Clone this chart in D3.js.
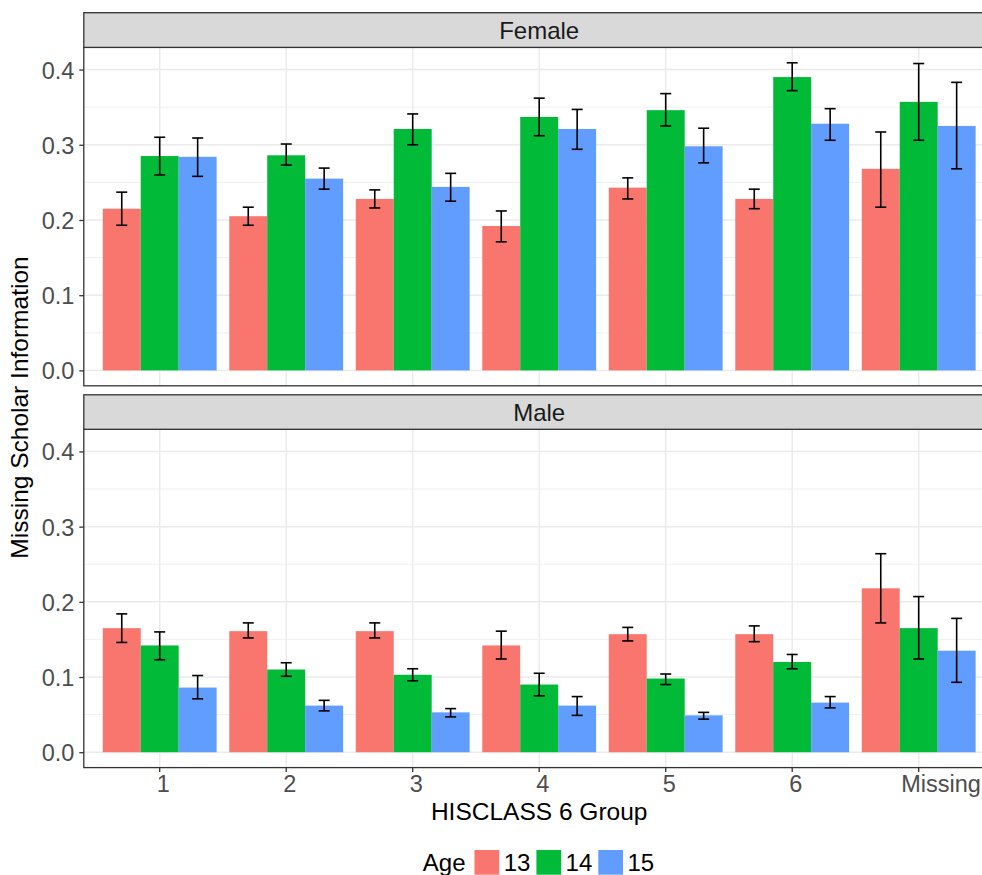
<!DOCTYPE html>
<html>
<head>
<meta charset="utf-8">
<script src="https://cdn.jsdelivr.net/npm/d3@7"></script>
<style>
  html, body { margin: 0; padding: 0; background: #fff; overflow: hidden; }
  text { font-family: "Liberation Sans", Arial, Helvetica, sans-serif; }
</style>
</head>
<body>
<svg id="chart" width="982" height="875"></svg>
<script>
// ---- Data ----
const categories = ["1", "2", "3", "4", "5", "6", "Missing"];
const ages = ["13", "14", "15"];
const ageColors = ["#F8766D", "#00BA38", "#619CFF"];
const facets = ["Female", "Male"];
const yTicks = [0.0, 0.1, 0.2, 0.3, 0.4];
const yMinorTicks = [0.05, 0.15, 0.25, 0.35];

// Female: mean, lower, upper per age (13, 14, 15) per category
const female13 = [0.215, 0.205, 0.228, 0.192, 0.243, 0.228, 0.268];
const female13Lo = [0.193, 0.193, 0.216, 0.171, 0.228, 0.215, 0.217];
const female13Hi = [0.237, 0.217, 0.240, 0.212, 0.256, 0.241, 0.317];
const female14 = [0.285, 0.286, 0.321, 0.337, 0.346, 0.390, 0.357];
const female14Lo = [0.260, 0.273, 0.300, 0.312, 0.325, 0.372, 0.306];
const female14Hi = [0.310, 0.301, 0.341, 0.362, 0.368, 0.409, 0.408];
const female15 = [0.284, 0.255, 0.244, 0.321, 0.298, 0.328, 0.325];
const female15Lo = [0.258, 0.241, 0.225, 0.294, 0.276, 0.306, 0.268];
const female15Hi = [0.309, 0.269, 0.262, 0.347, 0.322, 0.348, 0.383];

// Male
const male13 = [0.165, 0.161, 0.161, 0.142, 0.157, 0.157, 0.218];
const male13Lo = [0.146, 0.152, 0.152, 0.124, 0.148, 0.147, 0.172];
const male13Hi = [0.184, 0.172, 0.172, 0.161, 0.166, 0.168, 0.264];
const male14 = [0.142, 0.110, 0.103, 0.090, 0.098, 0.120, 0.165];
const male14Lo = [0.123, 0.101, 0.095, 0.075, 0.090, 0.111, 0.124];
const male14Hi = [0.160, 0.119, 0.111, 0.105, 0.104, 0.130, 0.207];
const male15 = [0.086, 0.062, 0.053, 0.062, 0.049, 0.066, 0.135];
const male15Lo = [0.071, 0.055, 0.047, 0.049, 0.044, 0.059, 0.093];
const male15Hi = [0.102, 0.069, 0.058, 0.074, 0.053, 0.074, 0.178];

const seriesByFacet = {
  Female: [
    { age: "13", mean: female13, lo: female13Lo, hi: female13Hi },
    { age: "14", mean: female14, lo: female14Lo, hi: female14Hi },
    { age: "15", mean: female15, lo: female15Lo, hi: female15Hi }
  ],
  Male: [
    { age: "13", mean: male13, lo: male13Lo, hi: male13Hi },
    { age: "14", mean: male14, lo: male14Lo, hi: male14Hi },
    { age: "15", mean: male15, lo: male15Lo, hi: male15Hi }
  ]
};

// ---- Layout ----
const svg = d3.select("#chart");
const panelLeft = 83.8, panelRight = 994.6;
const panels = [
  { name: "Female", stripTop: 12.7, top: 47.4, bottom: 385.8 },
  { name: "Male",   stripTop: 394.8, top: 429.3, bottom: 767.6 }
];

const x = d3.scaleBand().domain(categories).range([panelLeft, panelRight])
  .paddingInner(0.1).paddingOuter(0.15);
const xAge = d3.scaleBand().domain(ages).range([0, x.bandwidth()]).padding(0);
const color = d3.scaleOrdinal().domain(ages).range(ageColors);

const allHi = [].concat(female13Hi, female14Hi, female15Hi, male13Hi, male14Hi, male15Hi);
const yMax = d3.max(allHi);
const pad = 0.05 * yMax;

const tickFont = 23.5, xTickFont = 23.5, titleFont = 24.5, stripFont = 24, legendFont = 24;

panels.forEach(p => {
  const y = d3.scaleLinear().domain([-pad, yMax + pad]).range([p.bottom, p.top]);
  const g = svg.append("g");

  g.append("rect").attr("x", panelLeft).attr("y", p.top)
    .attr("width", panelRight - panelLeft).attr("height", p.bottom - p.top)
    .attr("fill", "#fff");

  g.selectAll(".ymin").data(yMinorTicks).enter().append("line")
    .attr("x1", panelLeft).attr("x2", panelRight)
    .attr("y1", d => y(d)).attr("y2", d => y(d))
    .attr("stroke", "#EBEBEB").attr("stroke-width", 0.8);
  g.selectAll(".ymaj").data(yTicks).enter().append("line")
    .attr("x1", panelLeft).attr("x2", panelRight)
    .attr("y1", d => y(d)).attr("y2", d => y(d))
    .attr("stroke", "#EBEBEB").attr("stroke-width", 1.5);
  g.selectAll(".xmaj").data(categories).enter().append("line")
    .attr("x1", d => x(d) + x.bandwidth() / 2).attr("x2", d => x(d) + x.bandwidth() / 2)
    .attr("y1", p.top).attr("y2", p.bottom)
    .attr("stroke", "#EBEBEB").attr("stroke-width", 1.5);

  const series = seriesByFacet[p.name];
  series.forEach(s => {
    g.selectAll(null).data(categories).enter().append("rect")
      .attr("x", (d) => x(d) + xAge(s.age))
      .attr("width", xAge.bandwidth())
      .attr("y", (d, i) => y(s.mean[i]))
      .attr("height", (d, i) => y(0) - y(s.mean[i]))
      .attr("fill", color(s.age));
  });
  const capHalf = 5.5;
  series.forEach(s => {
    const eb = g.selectAll(null).data(categories).enter().append("g")
      .attr("stroke", "#000").attr("stroke-width", 1.6).attr("fill", "none");
    const cx = d => x(d) + xAge(s.age) + xAge.bandwidth() / 2;
    eb.append("line")
      .attr("x1", cx).attr("x2", cx)
      .attr("y1", (d, i) => y(s.lo[i])).attr("y2", (d, i) => y(s.hi[i]));
    eb.append("line")
      .attr("x1", d => cx(d) - capHalf).attr("x2", d => cx(d) + capHalf)
      .attr("y1", (d, i) => y(s.hi[i])).attr("y2", (d, i) => y(s.hi[i]));
    eb.append("line")
      .attr("x1", d => cx(d) - capHalf).attr("x2", d => cx(d) + capHalf)
      .attr("y1", (d, i) => y(s.lo[i])).attr("y2", (d, i) => y(s.lo[i]));
  });

  g.append("rect").attr("x", panelLeft).attr("y", p.top)
    .attr("width", panelRight - panelLeft).attr("height", p.bottom - p.top)
    .attr("fill", "none").attr("stroke", "#333333").attr("stroke-width", 1.3);

  g.append("rect").attr("x", panelLeft).attr("y", p.stripTop)
    .attr("width", panelRight - panelLeft).attr("height", p.top - p.stripTop)
    .attr("fill", "#D9D9D9").attr("stroke", "#333333").attr("stroke-width", 1.3);
  g.append("text").attr("x", (panelLeft + panelRight) / 2)
    .attr("y", (p.stripTop + p.top) / 2).attr("dy", "0.36em")
    .attr("text-anchor", "middle").attr("font-size", stripFont)
    .attr("fill", "#1A1A1A").text(p.name);

  const yAxis = d3.axisLeft(y).tickValues(yTicks).tickFormat(d3.format(".1f"))
    .tickSize(4.5).tickPadding(5);
  const ya = g.append("g").attr("transform", `translate(${panelLeft},0)`).call(yAxis);
  ya.select(".domain").remove();
  ya.selectAll(".tick line").attr("stroke", "#333333").attr("stroke-width", 1.3);
  ya.selectAll(".tick text").attr("font-size", tickFont).attr("fill", "#4D4D4D")
    .attr("font-family", "Liberation Sans, Arial, sans-serif").attr("dy", "0.36em");

  if (p.name === "Male") {
    const xAxis = d3.axisBottom(x).tickSize(4.5).tickPadding(4);
    const xa = g.append("g").attr("transform", `translate(0,${p.bottom})`).call(xAxis);
    xa.select(".domain").remove();
    xa.selectAll(".tick line").attr("stroke", "#333333").attr("stroke-width", 1.3);
    xa.selectAll(".tick text").attr("font-size", xTickFont).attr("fill", "#4D4D4D")
      .attr("font-family", "Liberation Sans, Arial, sans-serif")
      .attr("text-anchor", "start").attr("y", 24.9).attr("dy", 0)
      .each(function () {
        const w = this.getComputedTextLength();
        d3.select(this).attr("x", -0.22 * w);
      });
  }
});

svg.append("text").attr("x", (panelLeft + panelRight) / 2).attr("y", 820)
  .attr("text-anchor", "middle").attr("font-size", titleFont).attr("fill", "#000")
  .text("HISCLASS 6 Group");
svg.append("text").attr("transform", `translate(28,${(panels[0].top + panels[1].bottom) / 2}) rotate(-90)`)
  .attr("text-anchor", "middle").attr("font-size", titleFont).attr("fill", "#000")
  .text("Missing Scholar Information");

const lg = svg.append("g");
const keySize = 24.7, keyTop = 850, legendCenterX = 538.5;
const titleText = lg.append("text").attr("font-size", legendFont).attr("fill", "#000")
  .attr("y", keyTop + keySize / 2).attr("dy", "0.36em").text("Age");
let cursor = titleText.node().getComputedTextLength() + 9;
ages.forEach((a, i) => {
  lg.append("rect").attr("x", cursor).attr("y", keyTop).attr("width", keySize).attr("height", keySize)
    .attr("fill", color(a));
  cursor += keySize + 4.5;
  const t = lg.append("text").attr("x", cursor).attr("y", keyTop + keySize / 2).attr("dy", "0.36em")
    .attr("font-size", legendFont).attr("fill", "#000").text(a);
  cursor += t.node().getComputedTextLength() + (i < ages.length - 1 ? 6 : 0);
});
lg.attr("transform", `translate(${legendCenterX - cursor / 2},0)`);
</script>
</body>
</html>
